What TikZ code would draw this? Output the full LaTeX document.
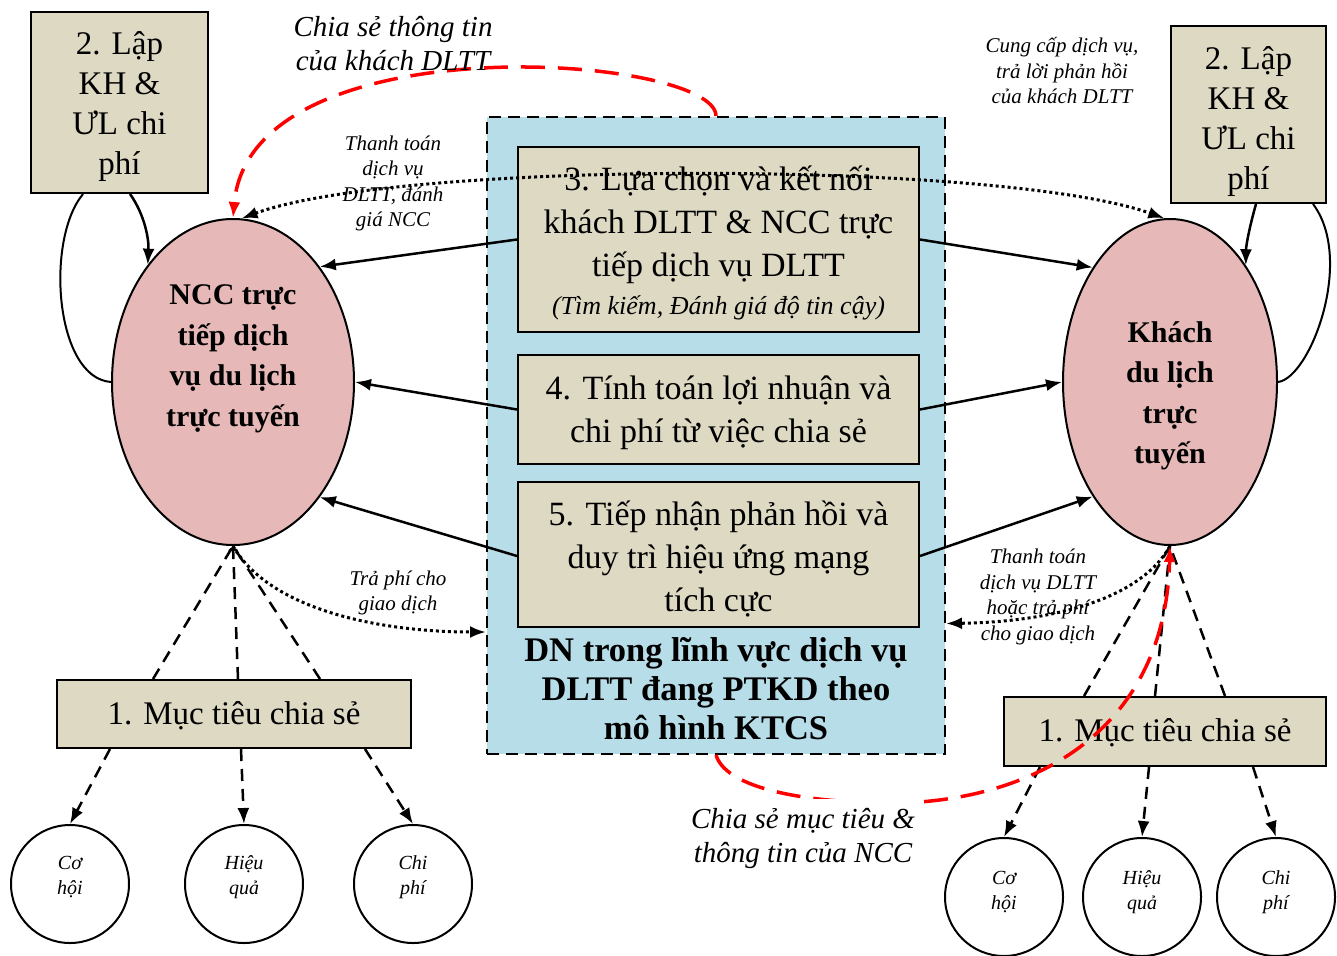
\documentclass[tikz,border=0pt]{standalone}
\usepackage{fontspec}
\setmainfont{Liberation Serif}
\usetikzlibrary{arrows.meta,shapes.geometric,calc}
\definecolor{tanfill}{HTML}{DDD9C3}
\definecolor{pinkfill}{HTML}{E6B9B8}
\definecolor{bluefill}{HTML}{B7DDE8}
\begin{document}
\begin{tikzpicture}[x=1pt,y=-1pt,
  stepbox/.style={draw, line width=2pt, fill=tanfill, inner sep=0pt},
  steptext/.style={align=center, font=\fontsize{34}{43}\selectfont},
  plantext/.style={align=center, font=\fontsize{33}{40}\selectfont},
  actor/.style={ellipse, draw, line width=2pt, fill=pinkfill, inner sep=0pt},
  actortext/.style={align=center, font=\bfseries\fontsize{30}{40.5}\selectfont},
  goal/.style={circle, draw, line width=2pt, fill=white, minimum size=118pt, inner sep=0pt},
  goaltext/.style={align=center, font=\itshape\fontsize{20}{25}\selectfont},
  smallnote/.style={align=center, font=\itshape\fontsize{21}{25.5}\selectfont},
  bignote/.style={align=center, font=\itshape\fontsize{29}{34}\selectfont},
  arr/.style={line width=2.5pt, -{Latex[length=16pt,width=12pt]}},
  plain/.style={line width=2pt},
  dotarr/.style={line width=3pt, dash pattern=on 3pt off 3pt, -{Latex[length=16pt,width=12pt]}},
  dotboth/.style={line width=3pt, dash pattern=on 3pt off 3pt, {Latex[length=16pt,width=12pt]}-{Latex[length=16pt,width=12pt]}},
  dashline/.style={line width=2.5pt, dash pattern=on 12pt off 8pt},
  dasharr/.style={line width=2.5pt, dash pattern=on 12pt off 8pt, -{Latex[length=16pt,width=12pt]}},
  redarr/.style={line width=3.5pt, red, dash pattern=on 24pt off 13pt, -{Latex[length=16pt,width=12pt]}}
]
\useasboundingbox (0,0) rectangle (1337,955);

% central firm block
\node[draw, line width=2pt, dash pattern=on 12pt off 7pt, fill=bluefill,
      minimum width=458pt, minimum height=637pt, inner sep=0pt] (firm) at (716,435.5) {};
\node[stepbox, minimum width=401pt, minimum height=185pt] (b3) at (718.5,239.5) {};
\node[steptext] (b3text) at (718.5,242.5)
  {3. Lựa chọn và kết nối\\khách DLTT \& NCC trực\\tiếp dịch vụ DLTT\\[-5pt]{\itshape\fontsize{26}{38}\selectfont (Tìm kiếm, Đánh giá độ tin cậy)}};
\node[stepbox, minimum width=401pt, minimum height=109pt] (b4) at (718.5,409.5) {};
\node[steptext] (b4text) at (718.5,412.5) {4. Tính toán lợi nhuận và\\chi phí từ việc chia sẻ};
\node[stepbox, minimum width=401pt, minimum height=145pt] (b5) at (718.5,554.5) {};
\node[steptext] (b5text) at (718.5,559) {5. Tiếp nhận phản hồi và\\duy trì hiệu ứng mạng\\tích cực};
\node[align=center, font=\bfseries\fontsize{34.5}{39}\selectfont] (firmtext) at (716,689)
  {DN trong lĩnh vực dịch vụ\\DLTT đang PTKD theo\\mô hình KTCS};

% planning boxes
\node[stepbox, minimum width=177pt, minimum height=181pt] (planL) at (119.5,102.5) {};
\node[plantext] (planLtext) at (119.5,106.5) {2. Lập\\KH \&\\ƯL chi\\phí};
\node[stepbox, minimum width=155pt, minimum height=177pt] (planR) at (1248.5,114.5) {};
\node[plantext] (planRtext) at (1248.5,122) {2. Lập\\KH \&\\ƯL chi\\phí};

% actors
\node[actor, minimum width=242pt, minimum height=326pt] (ncc) at (233,382) {};
\node[actortext] (ncctext) at (233,359) {NCC trực\\tiếp dịch\\vụ du lịch\\trực tuyến};
\node[actor, minimum width=214pt, minimum height=326pt] (kh) at (1170,382) {};
\node[actortext] (khtext) at (1170,396) {Khách\\du lịch\\trực\\tuyến};

% sharing goals
\node[stepbox, minimum width=354pt, minimum height=68pt] (goalL) at (234,714) {};
\node[plantext] (goalLtext) at (234,716) {1. Mục tiêu chia sẻ};
\node[stepbox, minimum width=322pt, minimum height=69pt] (goalR) at (1165,731.5) {};
\node[plantext] (goalRtext) at (1165,732.5) {1. Mục tiêu chia sẻ};

\node[goal] (cL1) at (70,884) {};
\node[goal] (cL2) at (244,884) {};
\node[goal] (cL3) at (413,884) {};
\node[goal] (cR1) at (1004,897) {};
\node[goal] (cR2) at (1142,897) {};
\node[goal] (cR3) at (1276,897) {};
\node[goaltext] (tL1) at (70,877) {Cơ\\hội};
\node[goaltext] (tL2) at (244,877) {Hiệu\\quả};
\node[goaltext] (tL3) at (413,877) {Chi\\phí};
\node[goaltext] (tR1) at (1004,892) {Cơ\\hội};
\node[goaltext] (tR2) at (1142,892) {Hiệu\\quả};
\node[goaltext] (tR3) at (1276,892) {Chi\\phí};

% planning loops
\draw[plain] (ncc.west) .. controls (55,378) and (45,240) .. ([xshift=-36.5pt]planL.south);
\draw[arr] ([xshift=10.5pt]planL.south) .. controls (145,215) and (149,240) .. (ncc.126);
\draw[plain] (kh.east) .. controls (1310,378) and (1355,260) .. ([xshift=64.5pt]planR.south);
\draw[arr] ([xshift=7.5pt]planR.south) .. controls (1250,225) and (1246,245) .. (kh.57);

% steps to actors
\draw[arr] (b3.west) -- (ncc.53);
\draw[arr] (b3.east) -- (kh.124);
\draw[arr] (b4.west) -- (ncc.east);
\draw[arr] (b4.east) -- (kh.west);
\draw[arr] ([yshift=-1.5pt]b5.west) -- (ncc.-53);
\draw[arr] ([yshift=-1.5pt]b5.east) -- (kh.236);

% goals
\draw[dashline] ([xshift=-81pt]goalL.north) -- (ncc.south);
\draw[dashline, -{To[length=6pt,width=10pt]}] ([xshift=4pt]goalL.north) -- (ncc.south);
\draw[dashline] ([xshift=86pt]goalL.north) -- (ncc.south);
\draw[dasharr] ([xshift=-124pt]goalL.south) -- (cL1.north);
\draw[dasharr] ([xshift=7pt]goalL.south) -- (cL2.north);
\draw[dasharr] ([xshift=131pt]goalL.south) -- (cL3.north);
\draw[dashline] ([xshift=-81pt]goalR.north) -- (kh.south);
\draw[dashline] ([xshift=-10pt]goalR.north) -- (kh.south);
\draw[dashline] ([xshift=60pt]goalR.north) -- (kh.south);
\draw[dasharr] ([xshift=-125pt]goalR.south) -- (cR1.north);
\draw[dasharr] ([xshift=-16pt]goalR.south) -- (cR2.north);
\draw[dasharr] ([xshift=88pt]goalR.south) -- (cR3.north);

% payment and service flows
\draw[dotboth] (ncc.87) .. controls (400,160) and (1000,160) .. (kh.92);
\draw[dotarr] (ncc.south) .. controls (270,610) and (380,632) .. ([yshift=-196.5pt]firm.west);
\draw[dotarr] (kh.south) .. controls (1140,600) and (1050,622) .. ([yshift=-188pt]firm.east);

% information sharing
\draw[redarr] (firm.north) .. controls (716,55) and (250,20) .. (ncc.north);
\draw[redarr] (firm.south) .. controls (725,785) and (790,801) .. (880,803)
                          .. controls (1020,806) and (1165,740) .. (kh.south);

% labels
\node[bignote] (infoC) at (393,44) {Chia sẻ thông tin\\của khách DLTT};
\node[bignote, fill=white, inner xsep=4pt, inner ysep=9pt] (infoN) at (803,838) {Chia sẻ mục tiêu \&\\thông tin của NCC};
\node[smallnote] (payN) at (393,183.5) {Thanh toán\\dịch vụ\\DLTT, đánh\\giá NCC};
\node[smallnote] (servC) at (1062,71) {Cung cấp dịch vụ,\\trả lời phản hồi\\của khách DLTT};
\node[smallnote] (feeN) at (398,593) {Trả phí cho\\giao dịch};
\node[smallnote] (feeC) at (1038,597) {Thanh toán\\dịch vụ DLTT\\hoặc trả phí\\cho giao dịch};
\end{tikzpicture}
\end{document}
